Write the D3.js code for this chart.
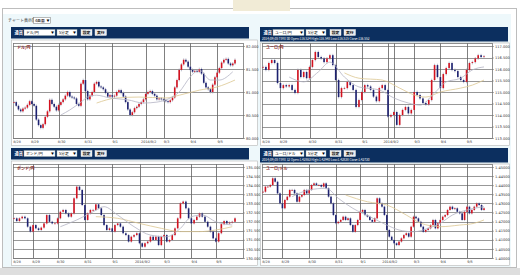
<!DOCTYPE html>
<html>
<head>
<meta charset="utf-8">
<script src="https://cdn.jsdelivr.net/npm/d3@7"></script>
<style>
body { margin: 0; background: #fff; }
svg { display: block; font-family: "Noto Sans CJK JP", "DejaVu Sans", sans-serif; }
</style>
</head>
<body>
<svg id="chart" width="520" height="275"></svg>
<script>
// ---- data ----
const usdJpyClose = [80.78,80.70,80.62,80.58,80.64,80.66,80.72,80.80,80.74,80.70,
  80.40,80.28,80.22,80.30,80.46,80.58,80.83,80.74,80.68,80.60,
  80.72,80.78,80.84,80.92,81.00,80.90,80.88,80.86,80.74,80.70,
  81.18,81.26,81.02,80.84,80.92,81.00,81.18,81.22,81.12,81.10,
  81.06,80.98,80.90,80.93,80.90,80.92,81.00,81.04,80.98,80.90,
  80.78,80.62,80.50,80.56,80.65,80.68,80.74,80.78,80.84,80.96,
  81.00,81.02,80.96,80.92,80.84,80.86,80.84,80.82,80.80,80.78,
  80.82,80.88,81.10,81.26,81.48,81.60,81.70,81.66,81.55,81.48,
  81.44,81.46,81.44,81.50,81.40,81.20,81.10,81.06,81.00,81.16,
  81.32,81.42,81.52,81.64,81.70,81.72,81.62,81.58,81.62,81.70];
const usdJpyMaShort = [[21,80.50],[25,80.61],[30,80.78],[33,80.89],[37,80.93],[43,80.87],[51,80.83],
  [58,80.76],[64,80.78],[70,80.87],[74,81.00],[79,81.33],[83,81.48],[88,81.26],[92,81.26],[98,81.44]];
const usdJpyMaLong = [[37,80.76],[46,80.87],[56,80.89],[68,80.87],[74,80.93],[83,81.04],[91,81.11],[99,81.26]];

const eurJpyClose = [116.09,115.96,116.26,116.39,116.26,115.39,115.17,115.30,115.24,115.30,
  115.09,114.96,115.96,115.65,115.87,115.60,116.09,116.39,116.74,116.52,
  116.46,116.30,116.46,116.60,116.17,115.52,114.78,115.17,115.17,115.44,
  115.30,115.09,114.35,114.65,115.00,115.30,115.24,115.09,114.80,114.60,
  115.17,115.30,115.09,113.93,114.00,114.13,113.57,114.00,114.22,114.35,
  114.07,114.22,115.00,114.87,114.72,114.52,114.46,114.65,115.52,116.17,
  115.65,115.17,115.78,116.04,116.26,115.96,115.91,115.65,115.52,115.44,
  115.96,116.26,116.30,116.46,116.60,116.52,116.55];
const eurJpyMaShort = [[9,115.65],[14,115.44],[19,115.87],[23,116.30],[28,115.65],[33,115.22],[40,115.09],
  [45,114.74],[50,114.52],[54,114.43],[59,114.96],[63,115.44],[68,115.60],[72,115.96],[76,116.09]];
const eurJpyMaLong = [[28,115.83],[33,115.60],[41,115.52],[47,115.17],[52,114.87],[56,114.78],[61,115.00],
  [68,115.17],[72,115.30],[76,115.52]];

const gbpJpyClose = [132.18,132.03,132.18,132.27,132.18,131.72,131.45,131.81,131.63,131.54,
  131.67,131.90,132.36,131.99,131.90,131.90,132.18,132.54,132.64,132.45,
  132.27,132.45,133.28,133.92,133.74,132.91,132.09,132.45,132.64,132.64,
  132.95,132.73,132.36,131.81,131.54,131.63,131.45,131.81,131.90,131.72,
  131.36,131.26,130.90,131.17,131.26,131.36,130.81,130.62,130.81,130.90,
  131.17,130.99,131.17,130.71,131.17,131.26,130.90,130.99,131.26,131.63,
  132.18,133.00,133.10,132.73,132.18,131.90,132.09,132.27,132.45,132.27,
  131.99,131.72,131.45,131.08,130.90,131.36,131.86,132.03,131.90,131.95,
  131.99,132.18];
const gbpJpyMaShort = [[17,131.72],[23,132.09],[29,132.54],[33,132.82],[38,132.36],[44,131.72],[50,131.26],
  [56,131.17],[61,131.63],[65,132.27],[69,132.36],[74,131.99],[80,131.81]];
const gbpJpyMaLong = [[30,132.27],[38,132.18],[46,131.90],[54,131.63],[61,131.45],[68,131.45],[74,131.54],[80,131.72]];

const eurUsdClose = [1.4364,1.4392,1.4392,1.4401,1.4438,1.4419,1.4355,1.4300,1.4273,1.4319,
  1.4337,1.4374,1.4374,1.4355,1.4309,1.4337,1.4346,1.4374,1.4355,1.4374,
  1.4401,1.4410,1.4401,1.4401,1.4392,1.4410,1.4383,1.4337,1.4300,1.4236,
  1.4191,1.4199,1.4209,1.4227,1.4209,1.4218,1.4181,1.4144,1.4181,1.4209,
  1.4254,1.4264,1.4236,1.4227,1.4209,1.4199,1.4218,1.4328,1.4300,1.4282,
  1.4236,1.4154,1.4117,1.4099,1.4081,1.4071,1.4090,1.4108,1.4126,1.4136,
  1.4117,1.4172,1.4227,1.4218,1.4199,1.4172,1.4144,1.4154,1.4163,1.4181,
  1.4209,1.4163,1.4191,1.4209,1.4227,1.4236,1.4264,1.4282,1.4269,1.4273,
  1.4254,1.4245,1.4209,1.4254,1.4282,1.4245,1.4264,1.4282,1.4300,1.4291,
  1.4264,1.4273];
const eurUsdMaShort = [[12,1.4337],[19,1.4374],[26,1.4383],[31,1.4328],[37,1.4273],[44,1.4227],[51,1.4181],
  [56,1.4154],[62,1.4144],[68,1.4163],[73,1.4191],[78,1.4236],[84,1.4264],[91,1.4282]];
const eurUsdMaLong = [[34,1.4346],[43,1.4309],[51,1.4291],[59,1.4236],[65,1.4191],[73,1.4172],[81,1.4181],
  [87,1.4191],[91,1.4209]];

const jpyTicksTL = [80, 80.5, 81, 81.5, 82];
const jpyTicksTR = [113, 113.5, 114, 114.5, 115, 115.5, 116, 116.5, 117];
const jpyTicksBL = [130, 130.5, 131, 131.5, 132, 132.5, 133, 133.5, 134, 134.5, 135];
const usdTicksBR = [1.40, 1.405, 1.41, 1.415, 1.42, 1.425, 1.43, 1.435, 1.44, 1.445, 1.45];

const dateLabels = ["8/28", "8/29", "8/30", "8/31", "9/1", "2014/9/2", "9/3", "9/4", "9/5"];
// candle index of each date label (first one sits at the left edge) and of the grid lines
const labelIdxTL = [0, 8, 20, 32, 44, 59, 67, 79, 91];
const gridIdxTL = [8, 20, 32, 44, 59, 67, 79, 91];
const labelIdxTR = [0, 6, 16, 25, 34, 43, 52, 61, 70];
const gridIdxTR = [6, 16, 25, 34, 43, 45, 52, 61, 70];
const labelIdxBL = [0, 7, 16, 26, 36, 46, 55, 65, 74];
const gridIdxBL = [7, 16, 26, 36, 46, 55, 65, 74];
const labelIdxBR = [0, 8, 19, 30, 40, 51, 62, 73, 84];
const gridIdxBR = [8, 19, 30, 40, 51, 54, 62, 73, 84];

const W = 520, H = 275;
const svg = d3.select("#chart");

// ---- page chrome ----
svg.append("rect").attr("width", W).attr("height", H).attr("fill", "#fff");
svg.append("rect").attr("x", 2.5).attr("y", 8.5).attr("width", 514).attr("height", 259)
  .attr("fill", "#fff").attr("stroke", "#bdbdbd");
svg.append("rect").attr("x", 3).attr("y", 14).attr("width", 508).attr("height", 253).attr("fill", "#eef8fb");
svg.append("rect").attr("x", 233).attr("y", 0).attr("width", 57).attr("height", 11).attr("fill", "#f1ebd6");
svg.append("rect").attr("x", 0).attr("y", 268).attr("width", W).attr("height", 7).attr("fill", "#dedede");

svg.append("text").attr("x", 8).attr("y", 21.8).attr("font-size", 4).attr("fill", "#333").text("チャート表示数");
svg.append("rect").attr("x", 33.5).attr("y", 17.5).attr("width", 17).attr("height", 6)
  .attr("fill", "#fff").attr("stroke", "#777").attr("stroke-width", 0.5);
svg.append("text").attr("x", 35).attr("y", 21.9).attr("font-size", 3.8).attr("fill", "#000").text("4画面");
svg.append("text").attr("x", 46.5).attr("y", 22).attr("font-size", 3).attr("fill", "#000").text("▼");

const panels = [
  { pair: "ドル/円", hx: 11, top: 27, hw: 238, hh: 11.5, boxR: 258, plot: { l: 13, r: 243, t: 43, b: 138 },
    cx: [14, 235], dom: [80, 82], ticks: jpyTicksTL, fmt: ".3f", close: usdJpyClose, maS: usdJpyMaShort,
    maL: usdJpyMaLong, grid: gridIdxTL, labels: labelIdxTL, wick: 0.03, info: null },
  { pair: "ユーロ/円", hx: 260, top: 27, hw: 248, hh: 14.5, boxR: 510, plot: { l: 262, r: 492, t: 43, b: 138 },
    cx: [263, 484], dom: [113, 117], ticks: jpyTicksTR, fmt: ".3f", close: eurJpyClose, maS: eurJpyMaShort,
    maL: eurJpyMaLong, grid: gridIdxTR, labels: labelIdxTR, wick: 0.06,
    info: "2014/09/05 TIME 00  Open:116.524  High:116.548  Low:116.515  Close:116.552" },
  { pair: "ポンド/円", hx: 11, top: 148, hw: 238, hh: 11.5, boxR: 258, plot: { l: 13, r: 243, t: 164, b: 258 },
    cx: [14, 235], dom: [130, 135], ticks: jpyTicksBL, fmt: ".3f", close: gbpJpyClose, maS: gbpJpyMaShort,
    maL: gbpJpyMaLong, grid: gridIdxBL, labels: labelIdxBL, wick: 0.06, info: null },
  { pair: "ユーロ/ドル", hx: 260, top: 148, hw: 248, hh: 14.5, boxR: 510, plot: { l: 262, r: 492, t: 164, b: 258 },
    cx: [263, 484], dom: [1.40, 1.45], ticks: usdTicksBR, fmt: ".5f", close: eurUsdClose, maS: eurUsdMaShort,
    maL: eurUsdMaLong, grid: gridIdxBR, labels: labelIdxBR, wick: 0.0006,
    info: "2014/09/05 TIME 12  Open:1.42863  High:1.42940  Low:1.42838  Close:1.42730" }
];

panels.forEach(drawPanel);

function drawPanel(p) {
  const g = svg.append("g");
  const pl = p.plot;

  // header bar with the controls
  g.append("rect").attr("x", p.hx).attr("y", p.top).attr("width", p.hw).attr("height", p.hh).attr("fill", "#0c2f5f");
  const cy = p.top + 2.5;
  g.append("text").attr("x", p.hx + 3.5).attr("y", cy + 4.3).attr("font-size", 4.2).attr("font-weight", "bold")
    .attr("fill", "#fff").text("通貨");
  const sel = [[13, 31, p.pair], [46, 20, "5分足"]];
  sel.forEach(([dx, w, t]) => {
    g.append("rect").attr("x", p.hx + dx).attr("y", cy).attr("width", w).attr("height", 6)
      .attr("fill", "#fff").attr("stroke", "#9aa").attr("stroke-width", 0.4);
    g.append("text").attr("x", p.hx + dx + 2).attr("y", cy + 4.4).attr("font-size", 3.8).attr("fill", "#000").text(t);
    g.append("text").attr("x", p.hx + dx + w - 4).attr("y", cy + 4.6).attr("font-size", 3).attr("fill", "#000").text("▼");
  });
  [[70, 11, "設定"], [84, 11.5, "実行"]].forEach(([dx, w, t]) => {
    g.append("rect").attr("x", p.hx + dx).attr("y", cy).attr("width", w).attr("height", 6)
      .attr("fill", "#ececec").attr("stroke", "#fff").attr("stroke-width", 0.4);
    g.append("text").attr("x", p.hx + dx + w / 2).attr("y", cy + 4.4).attr("text-anchor", "middle")
      .attr("font-size", 3.8).attr("font-weight", "bold").attr("fill", "#111").text(t);
  });
  if (p.info) {
    g.append("text").attr("x", p.hx + 2).attr("y", p.top + 12.6).attr("font-size", 3.1).attr("fill", "#fff")
      .text(p.info);
  }

  // white chart box
  const boxTop = p.top + p.hh + 1.5;
  g.append("rect").attr("x", p.hx + 0.5).attr("y", boxTop).attr("width", p.boxR - p.hx - 1)
    .attr("height", pl.b + 7.5 - boxTop).attr("fill", "#fff").attr("stroke", "#b5b5b5").attr("stroke-width", 0.6);

  const x = d3.scaleLinear().domain([0, p.close.length - 1]).range(p.cx);
  const y = d3.scaleLinear().domain(p.dom).range([pl.b, pl.t + 3]);

  // grid
  g.append("g").selectAll("line").data(p.ticks).join("line")
    .attr("x1", pl.l).attr("x2", pl.r).attr("y1", d => Math.round(y(d)) + 0.5).attr("y2", d => Math.round(y(d)) + 0.5)
    .attr("stroke", "#7d7d7d").attr("stroke-width", 0.8);
  g.append("g").selectAll("line").data(p.grid).join("line")
    .attr("x1", d => Math.round(x(d)) + 0.5).attr("x2", d => Math.round(x(d)) + 0.5)
    .attr("y1", pl.t).attr("y2", pl.b)
    .attr("stroke", "#5f5f5f").attr("stroke-width", 0.8);
  g.append("rect").attr("x", pl.l + 0.5).attr("y", pl.t + 0.5).attr("width", pl.r - pl.l).attr("height", pl.b - pl.t)
    .attr("fill", "none").attr("stroke", "#777").attr("stroke-width", 0.8);

  // y axis on the right
  const ya = g.append("g").attr("transform", `translate(${pl.r},0)`)
    .call(d3.axisRight(y).tickValues(p.ticks).tickSize(2).tickPadding(1).tickFormat(d3.format(p.fmt)));
  ya.select(".domain").remove();
  ya.selectAll("line").attr("stroke", "#666").attr("stroke-width", 0.5);
  ya.selectAll("text").attr("font-size", 3.6).attr("fill", "#333").attr("font-family", "DejaVu Sans, sans-serif");

  // x axis labels
  const xa = g.append("g").attr("transform", `translate(2.5,${pl.b + 1})`)
    .call(d3.axisBottom(x).tickValues(p.labels).tickSize(0).tickPadding(1.5)
      .tickFormat((d, i) => dateLabels[i]));
  xa.select(".domain").remove();
  xa.selectAll("text").attr("font-size", 3.4).attr("fill", "#333").attr("font-family", "DejaVu Sans, sans-serif");

  // candles: open is the previous close
  const candles = p.close.map((c, i) => {
    const o = i === 0 ? c : p.close[i - 1];
    return { i, o, c, h: Math.max(o, c) + p.wick, l: Math.min(o, c) - p.wick };
  });
  const cg = g.append("g");
  cg.selectAll("line").data(candles).join("line")
    .attr("x1", d => x(d.i)).attr("x2", d => x(d.i))
    .attr("y1", d => y(d.h)).attr("y2", d => y(d.l))
    .attr("stroke", "#8f93ad").attr("stroke-width", 0.6);
  cg.selectAll("rect").data(candles).join("rect")
    .attr("x", d => x(d.i) - 0.8).attr("width", 1.6)
    .attr("y", d => y(Math.max(d.o, d.c)))
    .attr("height", d => Math.max(0.7, Math.abs(y(d.o) - y(d.c))))
    .attr("fill", d => d.c >= d.o ? "#d3121f" : "#1d2170");

  // moving averages
  const line = d3.line().x(d => x(d[0])).y(d => y(d[1])).curve(d3.curveMonotoneX);
  g.append("path").datum(p.maL).attr("d", line).attr("fill", "none").attr("stroke", "#dcc690").attr("stroke-width", 0.8);
  g.append("path").datum(p.maS).attr("d", line).attr("fill", "none").attr("stroke", "#b4b4c4").attr("stroke-width", 0.8);

  // pair title
  g.append("text").attr("x", pl.l + 4).attr("y", pl.t + 5.5).attr("font-size", 4).attr("font-weight", "bold")
    .attr("fill", "#8a1c1c").text(p.pair);
}
</script>
</body>
</html>
